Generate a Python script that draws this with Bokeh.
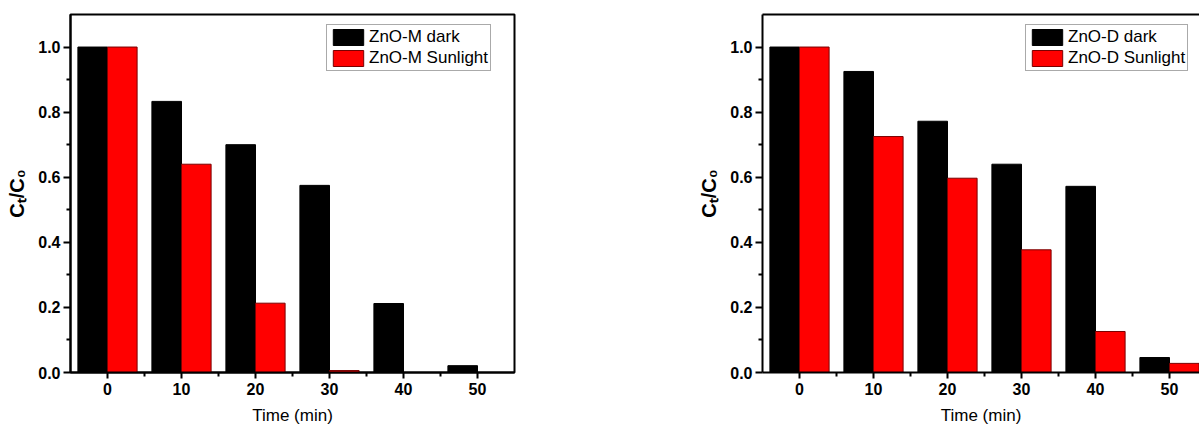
from bokeh.plotting import figure
from bokeh.layouts import row
from bokeh.models import (ColumnDataSource, FixedTicker, LinearAxis, Range1d,
                          Legend, LegendItem, CustomJSTickFormatter)
from bokeh.embed import file_html
from bokeh.resources import INLINE

# ---------------- data ----------------
times = [0, 10, 20, 30, 40, 50]
x_ticks = [0, 10, 20, 30, 40, 50]
x_minor = [5, 15, 25, 35, 45]
y_ticks = [0.0, 0.2, 0.4, 0.6, 0.8, 1.0]
y_minor = [0.1, 0.3, 0.5, 0.7, 0.9]

m_dark = [1.0, 0.833, 0.70, 0.575, 0.212, 0.021]
m_sun = [1.0, 0.64, 0.213, 0.006, 0.0, 0.0]
d_dark = [1.0, 0.925, 0.772, 0.64, 0.572, 0.046]
d_sun = [1.0, 0.725, 0.597, 0.377, 0.126, 0.028]

labels_m = ["ZnO-M dark", "ZnO-M Sunlight"]
labels_d = ["ZnO-D dark", "ZnO-D Sunlight"]
y_title = "C\u209c/C\u2080"
x_title = "Time (min)"

FONT = "Liberation Sans"
BAR_W = 4
X0, X1, Y0, Y1 = -5, 55, 0, 1.1
PX_PER_X = 7.4


def make_panel(dark, sun, names, width, border_left, border_right, x_end, full_box, legend_x):
    p = figure(width=width, height=427, output_backend="svg", toolbar_location=None,
               x_range=Range1d(X0, x_end), y_range=Range1d(Y0, Y1),
               min_border_left=border_left, min_border_right=border_right,
               min_border_top=14, min_border_bottom=55)
    p.background_fill_color = "white"
    p.border_fill_color = "white"
    p.xgrid.visible = False
    p.ygrid.visible = False

    src = ColumnDataSource(dict(
        xd=[t - BAR_W / 2 for t in times],
        xs=[t + BAR_W / 2 for t in times],
        dark=dark, sun=sun))
    r1 = p.vbar(x="xd", top="dark", width=BAR_W, source=src,
                fill_color="black", line_color="black", line_width=1)
    r2 = p.vbar(x="xs", top="sun", width=BAR_W, source=src,
                fill_color="#FF0000", line_color="#7a0000", line_width=1)

    for ax in (p.xaxis[0], p.yaxis[0]):
        ax.axis_line_width = 2
        ax.axis_line_color = "black"
        ax.major_tick_line_width = 2
        ax.minor_tick_line_width = 2
        ax.major_tick_in = 0
        ax.minor_tick_in = 0
        ax.major_tick_out = 7
        ax.minor_tick_out = 4
        ax.major_label_text_font = FONT
        ax.major_label_text_font_style = "bold"
        ax.major_label_text_font_size = "16px"
        ax.major_label_text_color = "black"

    xa = p.xaxis[0]
    xa.ticker = FixedTicker(ticks=x_ticks, minor_ticks=x_minor)
    xa.major_tick_out = 6
    xa.major_label_standoff = 4
    xa.axis_label = x_title
    xa.axis_label_text_font = FONT
    xa.axis_label_text_font_style = "normal"
    xa.axis_label_text_font_size = "17px"
    xa.axis_label_text_color = "black"
    xa.axis_label_standoff = 8

    ya = p.yaxis[0]
    ya.ticker = FixedTicker(ticks=y_ticks, minor_ticks=y_minor)
    ya.major_label_standoff = 3
    ya.formatter = CustomJSTickFormatter(code="return tick.toFixed(1);")
    ya.axis_label = y_title
    ya.axis_label_text_font = FONT
    ya.axis_label_text_font_style = "bold"
    ya.axis_label_text_font_size = "20px"
    ya.axis_label_text_color = "black"
    ya.axis_label_standoff = 7

    if full_box:
        p.outline_line_color = "black"
        p.outline_line_width = 2
        p.outline_line_alpha = 1
    else:
        p.outline_line_color = None
        top = LinearAxis(ticker=FixedTicker(ticks=[]), axis_line_width=2,
                         axis_line_color="black", major_tick_line_color=None,
                         minor_tick_line_color=None)
        p.add_layout(top, "above")

    legend = Legend(items=[LegendItem(label=names[0], renderers=[r1]),
                           LegendItem(label=names[1], renderers=[r2])],
                    location=(legend_x, 301), margin=0, padding=2, spacing=1,
                    glyph_width=38, glyph_height=20, label_height=20,
                    label_standoff=2, label_text_font=FONT,
                    label_text_font_size="17px", label_text_color="black",
                    border_line_color="#555555", border_line_width=1,
                    background_fill_color="white", background_fill_alpha=1)
    p.add_layout(legend, "center")
    return p


p1 = make_panel(m_dark, m_sun, labels_m, width=568, border_left=70, border_right=54,
                x_end=X1, full_box=True, legend_x=256)
p2 = make_panel(d_dark, d_sun, labels_d, width=631, border_left=194, border_right=0,
                x_end=X0 + 437 / PX_PER_X, full_box=False, legend_x=263)

layout = row(p1, p2, spacing=0)
open("out.html", "w").write(file_html(layout, INLINE))
